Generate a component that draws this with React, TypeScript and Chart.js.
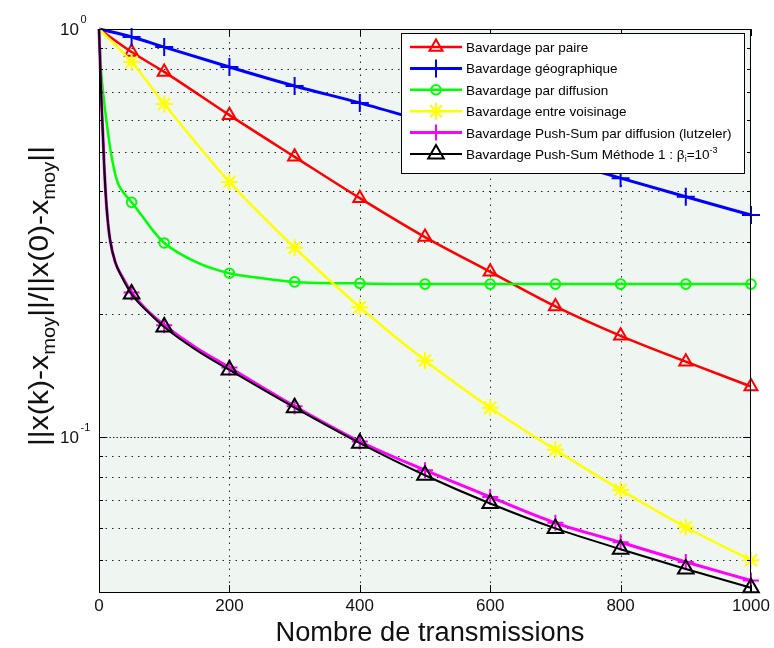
import React, { useEffect, useRef } from 'react';
import { Chart, registerables } from 'chart.js';

Chart.register(...registerables);

// ---------- data ----------
const MARKER_X = [50, 100, 200, 300, 400, 500, 600, 700, 800, 900, 1000];
const X_TICKS = [0, 200, 400, 600, 800, 1000];
const Y_GRID = [0.05, 0.06, 0.07, 0.08, 0.09, 0.1, 0.2, 0.3, 0.4, 0.5, 0.6, 0.7, 0.8, 0.9, 1];
const Y_MAJOR = [1, 0.1];
const Y_MAJOR_EXP = ['0', '-1'];
const Y_MIN = 0.0417;
const Y_MAX = 1;
const X_MIN = 0;
const X_MAX = 1000;

const pairX = [0, 50, 100, 200, 300, 400, 500, 600, 700, 800, 900, 1000];
const pairY = [1, 0.878, 0.785, 0.615, 0.486, 0.385, 0.309, 0.254, 0.209, 0.177, 0.153, 0.133];

const geoX = [0, 50, 100, 200, 300, 400, 500, 600, 700, 800, 900, 1000];
const geoY = [1, 0.956, 0.903, 0.807, 0.725, 0.659, 0.593, 0.533, 0.48, 0.431, 0.388, 0.35];

const diffX = [0, 3, 8, 12, 16, 20, 25, 30, 40, 50, 65, 86, 100, 150, 200, 250, 300, 400, 500, 600, 700, 800, 900, 1000];
const diffY = [1, 0.8, 0.66, 0.585, 0.525, 0.48, 0.44, 0.415, 0.393, 0.376, 0.35, 0.316, 0.299, 0.268, 0.252, 0.245, 0.24, 0.238, 0.237, 0.237, 0.237, 0.237, 0.237, 0.237];

const voisX = [0, 50, 100, 200, 300, 400, 500, 600, 700, 800, 900, 1000];
const voisY = [1, 0.83, 0.655, 0.422, 0.291, 0.208, 0.154, 0.118, 0.093, 0.0742, 0.0601, 0.0499];

const pushX = [0, 2, 4, 6, 8, 10, 13, 17, 25, 35, 50, 80, 100, 150, 200, 300, 400, 500, 600, 700, 800, 900, 1000];
const pushY = [1, 0.8, 0.65, 0.55, 0.46, 0.4, 0.345, 0.304, 0.268, 0.248, 0.226, 0.2, 0.188, 0.165, 0.148, 0.119, 0.0975, 0.0829, 0.0713, 0.0616, 0.0552, 0.0494, 0.0445];

const methX = [0, 2, 4, 6, 8, 10, 13, 17, 25, 35, 50, 80, 100, 150, 200, 300, 400, 500, 600, 700, 800, 900, 1000];
const methY = [1, 0.8, 0.65, 0.55, 0.46, 0.4, 0.345, 0.304, 0.268, 0.247, 0.224, 0.199, 0.186, 0.163, 0.146, 0.118, 0.0966, 0.0806, 0.0687, 0.0597, 0.0531, 0.0475, 0.0427];

const LEGEND_LABELS = [
  'Bavardage par paire',
  'Bavardage géographique',
  'Bavardage par diffusion',
  'Bavardage entre voisinage',
  'Bavardage Push-Sum par diffusion (lutzeler)',
  'Bavardage Push-Sum Méthode 1 : β',
];
const X_TITLE = 'Nombre de transmissions';

// ---------- style ----------
const W = 774;
const H = 648;
const AREA = { left: 99, top: 29, right: 751, bottom: 592 };
const FONT = '"Liberation Sans", Arial, Helvetica, sans-serif';
const PLOT_BG = '#eff5f1';
const TEXT = '#111';

type Series = { xs: number[]; ys: number[]; color: string; width: number; style: string; radius: number; order: number };

const SERIES: Series[] = [
  { xs: pairX, ys: pairY, color: '#ff0000', width: 2.5, style: 'triangle', radius: 7.5, order: 6 },
  { xs: geoX, ys: geoY, color: '#0000ff', width: 3, style: 'cross', radius: 9, order: 5 },
  { xs: diffX, ys: diffY, color: '#00ff00', width: 2.5, style: 'circle', radius: 4.8, order: 4 },
  { xs: voisX, ys: voisY, color: '#ffff00', width: 2.5, style: 'star', radius: 8.5, order: 3 },
  { xs: pushX, ys: pushY, color: '#ff00ff', width: 3, style: 'cross', radius: 8, order: 2 },
  { xs: methX, ys: methY, color: '#000000', width: 2, style: 'triangle', radius: 9, order: 1 },
];

function drawMarker(ctx: CanvasRenderingContext2D, style: string, x: number, y: number, r: number, color: string) {
  ctx.save();
  ctx.strokeStyle = color;
  ctx.lineWidth = 2;
  ctx.setLineDash([]);
  ctx.beginPath();
  if (style === 'triangle') {
    for (let k = 0; k < 3; k++) {
      const a = (k * 2 * Math.PI) / 3;
      const px = x + Math.sin(a) * r;
      const py = y - Math.cos(a) * r;
      if (k === 0) ctx.moveTo(px, py);
      else ctx.lineTo(px, py);
    }
    ctx.closePath();
  } else if (style === 'circle') {
    ctx.arc(x, y, r, 0, Math.PI * 2);
  } else if (style === 'cross') {
    ctx.moveTo(x, y - r);
    ctx.lineTo(x, y + r);
    ctx.moveTo(x - r, y);
    ctx.lineTo(x + r, y);
  } else if (style === 'star') {
    ctx.moveTo(x, y - r);
    ctx.lineTo(x, y + r);
    ctx.moveTo(x - r, y);
    ctx.lineTo(x + r, y);
    const d = r * Math.cos(Math.PI / 4);
    ctx.moveTo(x - d, y - d);
    ctx.lineTo(x + d, y + d);
    ctx.moveTo(x - d, y + d);
    ctx.lineTo(x + d, y - d);
  }
  ctx.stroke();
  ctx.restore();
}

type Seg = { t: string; size: number; dy: number };

function segWidth(ctx: CanvasRenderingContext2D, segs: Seg[]) {
  let w = 0;
  for (const s of segs) {
    ctx.font = `${s.size}px ${FONT}`;
    w += ctx.measureText(s.t).width;
  }
  return w;
}

function drawSegs(ctx: CanvasRenderingContext2D, segs: Seg[], x: number, y: number) {
  let cx = x;
  ctx.textAlign = 'left';
  ctx.textBaseline = 'alphabetic';
  for (const s of segs) {
    ctx.font = `${s.size}px ${FONT}`;
    ctx.fillText(s.t, cx, y + s.dy);
    cx += ctx.measureText(s.t).width;
  }
  return cx;
}

const matlabPlugin = {
  id: 'matlabLook',
  beforeDatasetsDraw(chart: any) {
    const { ctx, chartArea: a, scales } = chart;
    const xs = scales.x;
    const ys = scales.y;
    ctx.save();
    ctx.fillStyle = PLOT_BG;
    ctx.fillRect(a.left, a.top, a.right - a.left, a.bottom - a.top);
    ctx.strokeStyle = 'rgba(0,0,0,0.85)';
    ctx.lineWidth = 1;
    ctx.setLineDash([1.5, 5]);
    for (const v of X_TICKS) {
      if (v === X_MIN || v === X_MAX) continue;
      const px = Math.round(xs.getPixelForValue(v)) + 0.5;
      ctx.beginPath();
      ctx.moveTo(px, a.top);
      ctx.lineTo(px, a.bottom);
      ctx.stroke();
    }
    for (const v of Y_GRID) {
      if (v >= Y_MAX) continue;
      const py = Math.round(ys.getPixelForValue(v)) + 0.5;
      ctx.setLineDash(Y_MAJOR.includes(v) ? [1.5, 2] : [1.5, 5]);
      ctx.beginPath();
      ctx.moveTo(a.left, py);
      ctx.lineTo(a.right, py);
      ctx.stroke();
    }
    ctx.restore();
  },
  afterDatasetsDraw(chart: any) {
    const { ctx, chartArea: a, scales } = chart;
    const xs = scales.x;
    const ys = scales.y;
    ctx.save();
    ctx.setLineDash([]);
    ctx.strokeStyle = '#000';
    ctx.lineWidth = 1;
    // box
    ctx.strokeRect(a.left + 0.5, a.top + 0.5, a.right - a.left - 1, a.bottom - a.top);
    // ticks
    ctx.beginPath();
    for (const v of X_TICKS) {
      const px = Math.round(xs.getPixelForValue(v)) + 0.5;
      ctx.moveTo(px, a.bottom);
      ctx.lineTo(px, a.bottom - 7);
      ctx.moveTo(px, a.top);
      ctx.lineTo(px, a.top + 7);
    }
    for (const v of Y_GRID) {
      const py = Math.round(ys.getPixelForValue(v)) + 0.5;
      const len = Y_MAJOR.includes(v) ? 7 : 4;
      ctx.moveTo(a.left, py);
      ctx.lineTo(a.left + len, py);
      ctx.moveTo(a.right, py);
      ctx.lineTo(a.right - len, py);
    }
    ctx.stroke();

    // tick labels
    ctx.fillStyle = TEXT;
    ctx.font = `17px ${FONT}`;
    ctx.textAlign = 'center';
    ctx.textBaseline = 'alphabetic';
    for (const v of X_TICKS) {
      ctx.fillText(String(v), xs.getPixelForValue(v), 611);
    }
    Y_MAJOR.forEach((v, i) => {
      const py = ys.getPixelForValue(v);
      ctx.font = `17px ${FONT}`;
      ctx.textAlign = 'right';
      ctx.fillText('10', 79, py + 6);
      ctx.font = `11px ${FONT}`;
      ctx.textAlign = 'left';
      ctx.fillText(Y_MAJOR_EXP[i], 80.5, py - 6);
    });

    // x title
    ctx.font = `27px ${FONT}`;
    const xtw = ctx.measureText(X_TITLE).width;
    ctx.save();
    ctx.translate(430, 641);
    ctx.scale(309 / xtw, 1);
    ctx.textAlign = 'center';
    ctx.fillText(X_TITLE, 0, 0);
    ctx.restore();

    // y title
    const ySegs: Seg[] = [
      { t: '||x(k)-x', size: 27, dy: 0 },
      { t: 'moy', size: 18, dy: 7 },
      { t: '||/||x(0)-x', size: 27, dy: 0 },
      { t: 'moy', size: 18, dy: 7 },
      { t: '||', size: 27, dy: 0 },
    ];
    const ytw = segWidth(ctx, ySegs);
    ctx.save();
    ctx.translate(48, 296);
    ctx.rotate(-Math.PI / 2);
    ctx.scale(300 / ytw, 1);
    drawSegs(ctx, ySegs, -ytw / 2, 0);
    ctx.restore();

    // legend
    const L = { left: 401, top: 33, right: 744, bottom: 173 };
    ctx.fillStyle = '#ffffff';
    ctx.fillRect(L.left, L.top, L.right - L.left, L.bottom - L.top);
    ctx.strokeStyle = '#000';
    ctx.lineWidth = 1;
    ctx.strokeRect(L.left + 0.5, L.top + 0.5, L.right - L.left, L.bottom - L.top);
    SERIES.forEach((s, i) => {
      const ry = 47 + i * 21.4;
      ctx.save();
      ctx.strokeStyle = s.color;
      ctx.lineWidth = s.width;
      ctx.beginPath();
      ctx.moveTo(410, ry);
      ctx.lineTo(462, ry);
      ctx.stroke();
      ctx.restore();
      drawMarker(ctx, s.style, 436, ry, s.radius, s.color);
      ctx.fillStyle = '#000';
      if (i === SERIES.length - 1) {
        drawSegs(
          ctx,
          [
            { t: LEGEND_LABELS[i], size: 13.5, dy: 0 },
            { t: 'i', size: 9, dy: 3 },
            { t: '=10', size: 13.5, dy: 0 },
            { t: '-3', size: 9, dy: -6 },
          ],
          466,
          ry + 5
        );
      } else {
        drawSegs(ctx, [{ t: LEGEND_LABELS[i], size: 13.5, dy: 0 }], 466, ry + 5);
      }
    });
    ctx.restore();
  },
};

export default function App() {
  const ref = useRef<HTMLCanvasElement>(null);
  useEffect(() => {
    const canvas = ref.current;
    if (!canvas) return;
    const datasets = SERIES.map((s, i) => ({
      label: LEGEND_LABELS[i],
      data: s.xs.map((x, k) => ({ x, y: s.ys[k] })),
      borderColor: s.color,
      backgroundColor: 'transparent',
      borderWidth: s.width,
      pointStyle: s.style,
      pointRadius: (c: any) => (c.raw && MARKER_X.includes(c.raw.x) ? s.radius : 0),
      pointBorderColor: s.color,
      pointBackgroundColor: 'transparent',
      pointBorderWidth: 2,
      cubicInterpolationMode: 'monotone' as const,
      clip: false as any,
      order: s.order,
    }));
    const chart = new Chart(canvas, {
      type: 'line',
      data: { datasets },
      options: {
        responsive: false,
        animation: false,
        events: [],
        layout: {
          padding: { left: AREA.left, top: AREA.top, right: W - AREA.right, bottom: H - AREA.bottom },
        },
        plugins: { legend: { display: false }, tooltip: { enabled: false }, title: { display: false } },
        scales: {
          x: { type: 'linear', min: X_MIN, max: X_MAX, display: false },
          y: { type: 'logarithmic', min: Y_MIN, max: Y_MAX, display: false },
        },
      },
      plugins: [matlabPlugin],
    });
    return () => chart.destroy();
  }, []);
  return (
    <div style={{ position: 'fixed', left: 0, top: 0, width: W, height: H, background: '#fff' }}>
      <canvas ref={ref} width={W} height={H} style={{ display: 'block', width: W, height: H }} />
    </div>
  );
}
